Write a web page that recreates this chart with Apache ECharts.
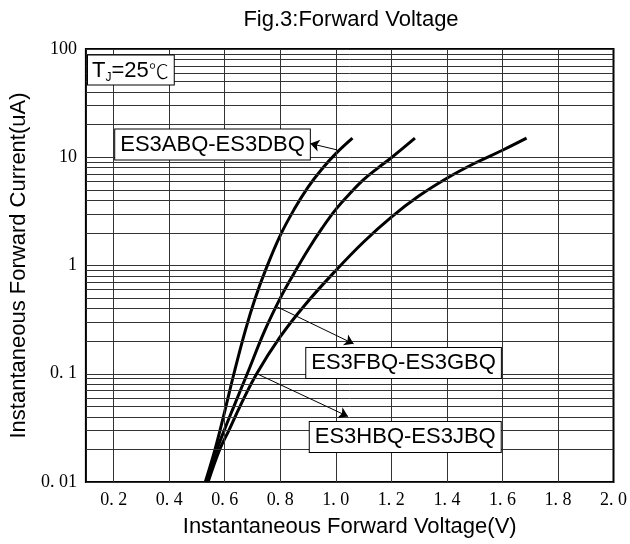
<!DOCTYPE html>
<html>
<head>
<meta charset="utf-8">
<script src="https://cdn.jsdelivr.net/npm/echarts@6/dist/echarts.min.js"></script>
<style>
html,body{margin:0;padding:0;background:#fff;}
#c{width:630px;height:544px;}
</style>
</head>
<body>
<div id="c"></div>
<script>
// ---- data ----
const xTickValues = [0.2, 0.4, 0.6, 0.8, 1.0, 1.2, 1.4, 1.6, 1.8, 2.0];
const xTickLabels = ['0. 2', '0. 4', '0. 6', '0. 8', '1. 0', '1. 2', '1. 4', '1. 6', '1. 8', '2. 0'];
const yTickValues = [0.01, 0.1, 1, 10, 100];
const yTickLabels = ['0. 01', '0. 1', '1', '10', '100'];
const xGridValues = [0.2, 0.4, 0.6, 0.8, 1.0, 1.2, 1.4, 1.6, 1.8];
const minorFactors = [2, 3, 4, 5, 6, 7, 8, 9];
const decades = [0.01, 0.1, 1, 10];

const seriesNames = ['ES3ABQ-ES3DBQ', 'ES3FBQ-ES3GBQ', 'ES3HBQ-ES3JBQ'];
const voltsA = [0.53, 0.565, 0.60, 0.633, 0.674, 0.71, 0.75, 0.80, 0.85, 0.90, 0.95, 1.00, 1.06];
const currentA = [0.01, 0.02, 0.045, 0.1, 0.25, 0.5, 0.95, 1.9, 3.3, 5.3, 7.8, 10.8, 15];
const voltsB = [0.535, 0.572, 0.598, 0.633, 0.681, 0.744, 0.80, 0.85, 0.90, 0.95, 1.00, 1.05, 1.10, 1.15, 1.20, 1.285];
const currentB = [0.01, 0.02, 0.03, 0.05, 0.1, 0.25, 0.5, 0.85, 1.4, 2.2, 3.3, 4.6, 6.2, 7.9, 9.9, 15];
const voltsC = [0.54, 0.582, 0.615, 0.655, 0.715, 0.80, 0.888, 1.00, 1.10, 1.20, 1.30, 1.40, 1.50, 1.60, 1.687];
const currentC = [0.01, 0.02, 0.03, 0.05, 0.1, 0.22, 0.43, 0.9, 1.65, 2.8, 4.4, 6.4, 8.8, 11.6, 15];

// annotation anchors in data coordinates [volts, current]
const arrowFrom = [[1.004, 11.7], [0.787, 0.417], [0.716, 0.1]];
const arrowTo = [[0.908, 13.4], [1.064, 0.189], [1.044, 0.0403]];
const boxAt = [[0.556, 13.1], [1.244, 0.126], [1.25, 0.0261]];
const tempLabelAt = [0.262, 64];

// ---- build ----
const zip = (xs, ys) => xs.map((x, i) => [x, ys[i]]);
const yMinor = [];
decades.forEach(d => minorFactors.forEach(f => yMinor.push(+(d * f).toPrecision(3))));

const gridColor = '#333';
const chart = echarts.init(document.getElementById('c'), null, {renderer: 'canvas'});

const curves = [zip(voltsA, currentA), zip(voltsB, currentB), zip(voltsC, currentC)];

const boxLabel = {
  show: true, position: 'inside', color: '#000',
  fontFamily: 'Arial, Liberation Sans, sans-serif', fontSize: 22, lineHeight: 23,
  backgroundColor: '#fff', borderColor: '#000', borderWidth: 1, padding: [4, 5, 3, 5]
};

const option = {
  animation: false,
  backgroundColor: '#fff',
  title: {
    text: 'Fig.3:Forward Voltage',
    left: 346, top: 4, textAlign: 'center',
    textStyle: {fontFamily: 'Arial, Liberation Sans, sans-serif', fontWeight: 'normal', fontSize: 22, color: '#000'}
  },
  grid: {left: 78, right: 16, top: 49, bottom: 62, show: true, borderColor: '#000', borderWidth: 2, backgroundColor: '#fff'},
  xAxis: {
    type: 'value', min: 0.1, max: 2.0,
    name: 'Instantaneous Forward Voltage(V)', nameLocation: 'middle', nameGap: 34,
    nameTextStyle: {fontFamily: 'Arial, Liberation Sans, sans-serif', fontSize: 22, color: '#000'},
    axisLine: {show: false}, axisTick: {show: false}, splitLine: {show: false},
    axisLabel: {
      customValues: xTickValues, margin: 9, color: '#000',
      fontFamily: 'Liberation Serif, DejaVu Serif, serif', fontSize: 18,
      formatter: v => { const i = xTickValues.findIndex(t => Math.abs(t - v) < 1e-6); return i >= 0 ? xTickLabels[i] : ''; }
    }
  },
  yAxis: {
    type: 'log', logBase: 10, min: 0.01, max: 100,
    name: 'Instantaneous Forward Current(uA)', nameLocation: 'middle', nameGap: 47,
    nameTextStyle: {fontFamily: 'Arial, Liberation Sans, sans-serif', fontSize: 22, color: '#000'},
    axisLine: {show: false}, axisTick: {show: false},
    splitLine: {show: true, lineStyle: {color: gridColor, width: 1}},
    axisLabel: {
      margin: 9, color: '#000',
      fontFamily: 'Liberation Serif, DejaVu Serif, serif', fontSize: 18,
      formatter: v => { const e = Math.round(Math.log10(v)); const i = yTickValues.findIndex(t => Math.round(Math.log10(t)) === e); return i >= 0 ? yTickLabels[i] : ''; }
    }
  },
  series: [
    {
      type: 'line', name: 'grid', data: [], z: 1, silent: true,
      markLine: {
        silent: true, symbol: ['none', 'none'], animation: false,
        label: {show: false},
        lineStyle: {color: gridColor, width: 1, type: 'solid'},
        data: xGridValues.map(v => ({xAxis: v})).concat(yMinor.map(v => ({yAxis: v})))
      }
    }
  ].concat(curves.map((d, k) => ({
    type: 'line', name: seriesNames[k], data: d, smooth: 0.4, showSymbol: false, z: 3,
    lineStyle: {color: '#000', width: 3}, itemStyle: {color: '#000'}
  }))).concat([
    {
      type: 'line', name: 'annotations', data: [], z: 5, silent: true,
      markLine: {
        silent: true, animation: false, symbol: ['none', 'arrow'], symbolSize: 9,
        label: {show: false},
        itemStyle: {color: '#000'},
        lineStyle: {color: '#000', width: 1, type: 'solid'},
        data: arrowFrom.map((p, i) => [{coord: p}, {coord: arrowTo[i]}])
      },
      markPoint: {
        silent: true, animation: false, symbol: 'rect', symbolSize: 1,
        itemStyle: {color: 'transparent'},
        data: boxAt.map((p, i) => ({coord: p, name: seriesNames[i], label: Object.assign({}, boxLabel, {formatter: seriesNames[i]})}))
          .concat([{
            coord: tempLabelAt, name: 'tj',
            label: Object.assign({}, boxLabel, {
              padding: [4, 5, 2, 4],
              formatter: '{t|T}{s|J}{t|=25}{c|℃}',
              rich: {
                t: {fontFamily: 'Arial, Liberation Sans, sans-serif', fontSize: 22, color: '#000'},
                s: {fontFamily: 'Arial, Liberation Sans, sans-serif', fontSize: 12, color: '#000', padding: [14, 0, 0, 0]},
                c: {fontFamily: 'Noto Sans CJK SC, DejaVu Sans, sans-serif', fontSize: 20, color: '#000', fontWeight: 200}
              }
            })
          }])
      }
    }
  ])
};
chart.setOption(option);
</script>
</body>
</html>
